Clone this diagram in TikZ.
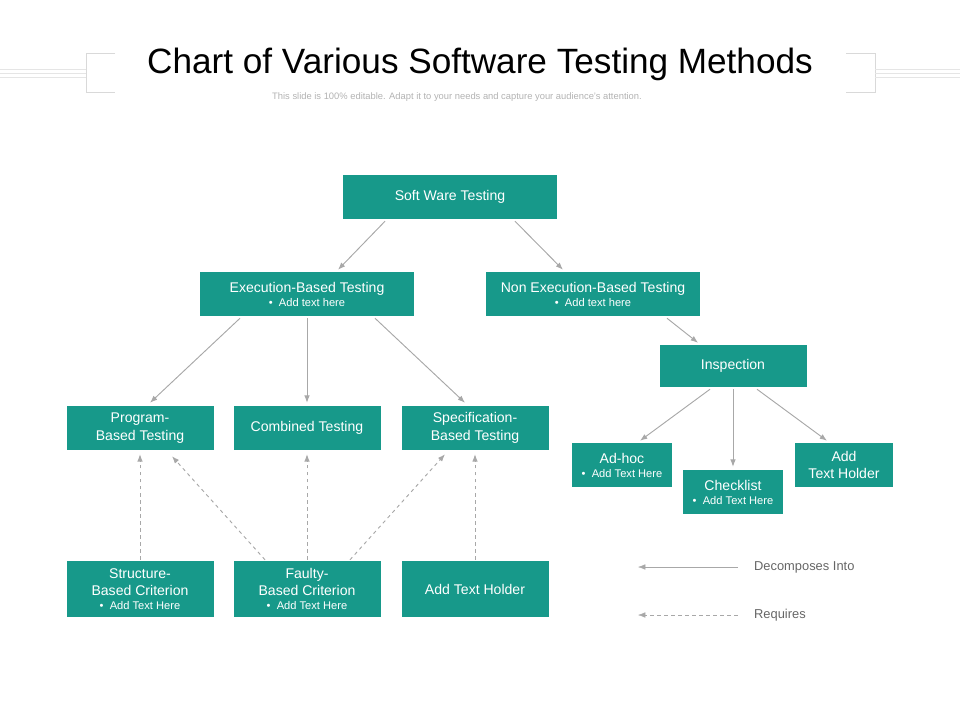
\documentclass[tikz,border=0pt]{standalone}
\usepackage{fontspec}
\setmainfont{Liberation Sans}
\usetikzlibrary{arrows.meta}
\usetikzlibrary{positioning}
\usetikzlibrary{calc}
\definecolor{teal1}{HTML}{17998A}
\definecolor{arrgray}{HTML}{A8A8A8}
\tikzset{
    box/.style = {rectangle, fill = teal1, text = white, align = center,
        inner sep = 0pt, font = \fontsize{12}{15}\selectfont},
    dec/.style = {arrgray, thick, -{Latex[length=2.2mm]}},
    req/.style = {arrgray, thick, dashed, -{Latex[length=2.2mm]}},
}
\newcommand{\sub}[1]{\\[-3pt]{\fontsize{9.5}{11}\selectfont\textbullet\ \ #1}}
\begin{document}
\begin{tikzpicture}[x = 0.03cm, y = -0.03cm]
  \useasboundingbox (0,0) rectangle (960,720);
  % title
  \node[font = \fontsize{30}{34}\selectfont] (title) at (480,64) {Chart of Various Software Testing Methods};
  \node[font = \fontsize{8}{10}\selectfont, text = gray!60] (subtitle) at (457,97)
    {This slide is 100\% editable. Adapt it to your needs and capture your audience's attention.};
  \draw[gray!30] (115,53) -- (86,53) -- (86,92) -- (115,92);
  \draw[gray!30] (846,53) -- (875,53) -- (875,92) -- (846,92);
  \foreach \yy in {69,73,77} {
    \draw[gray!20] (0,\yy) -- (86,\yy);
    \draw[gray!20] (875,\yy) -- (960,\yy);
  }
  % boxes
  \node[box, minimum width = 214*0.03cm, minimum height = 44*0.03cm] (soft) at (450,197) {Soft Ware Testing};
  \node[box, minimum width = 214*0.03cm, minimum height = 44*0.03cm] (exec) at (307,294) {Execution-Based Testing\sub{Add text here}};
  \node[box, minimum width = 214*0.03cm, minimum height = 44*0.03cm] (nonexec) at (593,294) {Non Execution-Based Testing\sub{Add text here}};
  \node[box, minimum width = 147*0.03cm, minimum height = 42*0.03cm] (insp) at (733,366) {Inspection};
  \node[box, minimum width = 147*0.03cm, minimum height = 44*0.03cm] (prog) at (140,428) {Program-\\Based Testing};
  \node[box, minimum width = 147*0.03cm, minimum height = 44*0.03cm] (comb) at (307,428) {Combined Testing};
  \node[box, minimum width = 147*0.03cm, minimum height = 44*0.03cm] (spec) at (475,428) {Specification-\\Based Testing};
  \node[box, minimum width = 100*0.03cm, minimum height = 44*0.03cm] (adhoc) at (622,465) {Ad-hoc\sub{Add Text Here}};
  \node[box, minimum width = 100*0.03cm, minimum height = 44*0.03cm] (check) at (733,492) {Checklist\sub{Add Text Here}};
  \node[box, minimum width = 98*0.03cm, minimum height = 44*0.03cm] (addh) at (844,465) {Add\\Text Holder};
  \node[box, minimum width = 147*0.03cm, minimum height = 56*0.03cm] (struct) at (140,589) {Structure-\\Based Criterion\sub{Add Text Here}};
  \node[box, minimum width = 147*0.03cm, minimum height = 56*0.03cm] (faulty) at (307,589) {Faulty-\\Based Criterion\sub{Add Text Here}};
  \node[box, minimum width = 147*0.03cm, minimum height = 56*0.03cm] (addtext) at (475,589) {Add Text Holder};
  % decomposes into
  \draw[dec] ($(soft.south)+(-65,2)$) -- ($(exec.north)+(31,-2)$);
  \draw[dec] ($(soft.south)+(65,2)$) -- ($(nonexec.north)+(-30,-2)$);
  \draw[dec] ($(exec.south)+(-67,2)$) -- ($(prog.north)+(10,-3)$);
  \draw[dec] (exec.south) ++(0,2) -- ($(comb.north)+(0,-3)$);
  \draw[dec] ($(exec.south)+(68,2)$) -- ($(spec.north)+(-10,-3)$);
  \draw[dec] ($(nonexec.south)+(74,2)$) -- ($(insp.north)+(-35,-2)$);
  \draw[dec] ($(insp.south)+(-23,2)$) -- ($(adhoc.north)+(18,-2)$);
  \draw[dec] ($(insp.south)+(0,2)$) -- ($(check.north)+(0,-3)$);
  \draw[dec] ($(insp.south)+(24,2)$) -- ($(addh.north)+(-17,-2)$);
  % requires
  \draw[req] ($(struct.north)+(0,-1)$) -- ($(prog.south)+(0,4)$);
  \draw[req] ($(faulty.north)+(-42,-1)$) -- ($(prog.south)+(32,6)$);
  \draw[req] ($(faulty.north)+(0,-1)$) -- ($(comb.south)+(0,4)$);
  \draw[req] ($(faulty.north)+(43,-1)$) -- ($(spec.south)+(-30,4)$);
  \draw[req] ($(addtext.north)+(0,-1)$) -- ($(spec.south)+(0,4)$);
  % legend
  \node[anchor = west, text = gray!80!black, font = \fontsize{11}{13}\selectfont] (ldec) at (750,567) {Decomposes Into};
  \node[anchor = west, text = gray!80!black, font = \fontsize{11}{13}\selectfont] (lreq) at (750,615) {Requires};
  \coordinate (ldecend) at (638,567);
  \coordinate (lreqend) at (638,615);
  \draw[dec, thin] (ldec.west) ++(-12,0) -- (ldecend);
  \draw[req, thin] (lreq.west) ++(-12,0) -- (lreqend);
\end{tikzpicture}
\end{document}
